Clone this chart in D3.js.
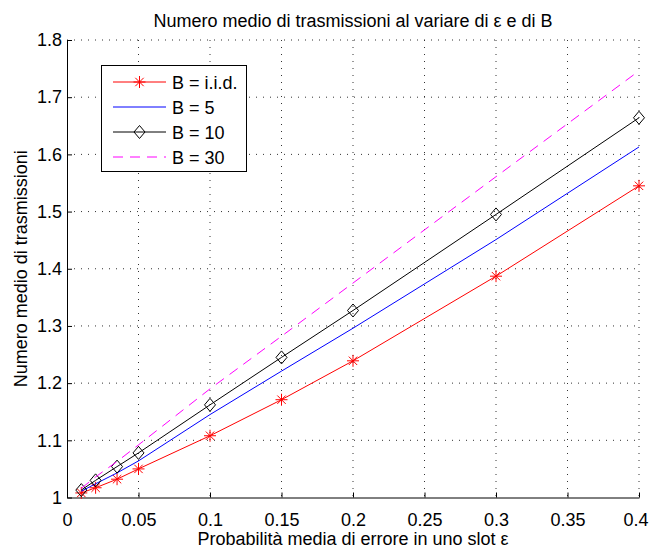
<!DOCTYPE html>
<html>
<head>
<meta charset="utf-8">
<script src="https://cdn.jsdelivr.net/npm/d3@7"></script>
<style>
  body { margin: 0; background: #fff; }
  svg text { font-family: "Liberation Sans", Arial, Helvetica, sans-serif; fill: #000; }
</style>
</head>
<body>
<div id="chart"></div>
<script>
// numero medio di trasmissioni vs epsilon, one line per B
var eps = [0.01, 0.02, 0.035, 0.05, 0.1, 0.15, 0.2, 0.3, 0.4];
var iid = [1.008, 1.017, 1.032, 1.050, 1.108, 1.171, 1.239, 1.387, 1.545];
var b5  = [1.011, 1.024, 1.043, 1.064, 1.145, 1.221, 1.296, 1.451, 1.613];
var b10 = [1.013, 1.030, 1.054, 1.078, 1.162, 1.245, 1.327, 1.495, 1.664];
var b30 = [1.016, 1.036, 1.063, 1.092, 1.190, 1.282, 1.375, 1.561, 1.746];
var labels = ["B = i.i.d.", "B = 5", "B = 10", "B = 30"];
var xTicks = [0, 0.05, 0.1, 0.15, 0.2, 0.25, 0.3, 0.35, 0.4];
var yTicks = [1, 1.1, 1.2, 1.3, 1.4, 1.5, 1.6, 1.7, 1.8];

var series = [
  { name: labels[0], values: iid, color: "#ff0000", marker: "star" },
  { name: labels[1], values: b5,  color: "#0000ff", marker: null },
  { name: labels[2], values: b10, color: "#000000", marker: "diamond" },
  { name: labels[3], values: b30, color: "#ff00ff", marker: null, dash: "10,7" }
];

var width = 649, height = 548;
var mLeft = 67, mRight = 639, mTop = 40, mBottom = 497.5;   // plot box (top is taken by window.top)

var svg = d3.select("#chart").append("svg")
    .attr("width", width)
    .attr("height", height);

var x = d3.scaleLinear().domain([0, 0.4]).range([mLeft, mRight]);
var y = d3.scaleLinear().domain([1, 1.8]).range([mBottom, mTop]);

// dotted grid
svg.append("g").selectAll("line")
    .data(xTicks.slice(1))
    .enter().append("line")
    .attr("x1", d => x(d)).attr("x2", d => x(d))
    .attr("y1", mTop).attr("y2", mBottom)
    .attr("stroke", "#333").attr("stroke-width", 1)
    .attr("stroke-dasharray", "1,6");
svg.append("g").selectAll("line")
    .data(yTicks.slice(1))
    .enter().append("line")
    .attr("y1", d => y(d)).attr("y2", d => y(d))
    .attr("x1", mLeft).attr("x2", mRight)
    .attr("stroke", "#333").attr("stroke-width", 1)
    .attr("stroke-dasharray", "1,6");

// axes (ticks pointing inwards like matlab)
var xAxis = svg.append("g")
    .attr("transform", "translate(0," + mBottom + ")")
    .call(d3.axisBottom(x).tickValues(xTicks).tickSizeInner(-5).tickSizeOuter(0)
          .tickFormat(d3.format("")).tickPadding(16));
var yAxis = svg.append("g")
    .attr("transform", "translate(" + mLeft + ",0)")
    .call(d3.axisLeft(y).tickValues(yTicks).tickSizeInner(-5).tickSizeOuter(0)
          .tickFormat(d3.format("")).tickPadding(5));
[xAxis, yAxis].forEach(function(a) {
  a.selectAll("text").style("font-size", "18px").attr("fill", "#000");
  a.selectAll("line,path").attr("stroke", "#000");
});
// last x label sits against the right edge, keep it inside the picture
xAxis.selectAll(".tick text").filter(d => d === 0.4)
    .attr("text-anchor", "end").attr("x", 9);

// lines
var line = d3.line()
    .x((d, i) => x(eps[i]))
    .y(d => y(d));

function drawMarker(g, type, color, cx, cy) {
  if (type === "star") {
    var r = 6;
    var p = "M" + (cx - r) + "," + cy + "h" + (2 * r) +
            "M" + cx + "," + (cy - r) + "v" + (2 * r) +
            "M" + (cx - r * 0.7) + "," + (cy - r * 0.7) + "l" + (1.4 * r) + "," + (1.4 * r) +
            "M" + (cx - r * 0.7) + "," + (cy + r * 0.7) + "l" + (1.4 * r) + "," + (-1.4 * r);
    g.append("path").attr("d", p).attr("stroke", color).attr("stroke-width", 1).attr("fill", "none");
  } else if (type === "diamond") {
    var w = 5.5, h = 6.5;
    g.append("path")
      .attr("d", "M" + cx + "," + (cy - h) + "L" + (cx + w) + "," + cy + "L" + cx + "," + (cy + h) + "L" + (cx - w) + "," + cy + "Z")
      .attr("stroke", color).attr("stroke-width", 1).attr("fill", "none");
  }
}

series.forEach(function(s) {
  svg.append("path")
    .datum(s.values)
    .attr("d", line)
    .attr("fill", "none")
    .attr("stroke", s.color)
    .attr("stroke-width", 1)
    .attr("stroke-dasharray", s.dash || null);
  if (s.marker) {
    var g = svg.append("g");
    s.values.forEach(function(v, i) { drawMarker(g, s.marker, s.color, x(eps[i]), y(v)); });
  }
});

// legend
var lg = svg.append("g");
lg.append("rect")
  .attr("x", 101.5).attr("y", 65.5).attr("width", 145).attr("height", 106)
  .attr("fill", "#fff").attr("stroke", "#000").attr("stroke-width", 1);
series.forEach(function(s, i) {
  var ly = 82 + i * 25;
  lg.append("line")
    .attr("x1", 113).attr("x2", 166).attr("y1", ly).attr("y2", ly)
    .attr("stroke", s.color).attr("stroke-width", 1)
    .attr("stroke-dasharray", s.dash || null);
  if (s.marker) drawMarker(lg, s.marker, s.color, 139.5, ly);
  lg.append("text")
    .attr("x", 172).attr("y", ly + 6.5)
    .style("font-size", "18px")
    .text(s.name);
});

// titles
svg.append("text")
  .attr("x", (mLeft + mRight) / 2).attr("y", 27)
  .attr("text-anchor", "middle")
  .style("font-size", "18px")
  .text("Numero medio di trasmissioni al variare di ε e di B");
svg.append("text")
  .attr("x", (mLeft + mRight) / 2).attr("y", 545)
  .attr("text-anchor", "middle")
  .style("font-size", "18px")
  .text("Probabilità media di errore in uno slot ε");
svg.append("text")
  .attr("transform", "translate(27," + (mTop + mBottom) / 2 + ") rotate(-90)")
  .attr("text-anchor", "middle")
  .style("font-size", "18px")
  .text("Numero medio di trasmissioni");
</script>
</body>
</html>
